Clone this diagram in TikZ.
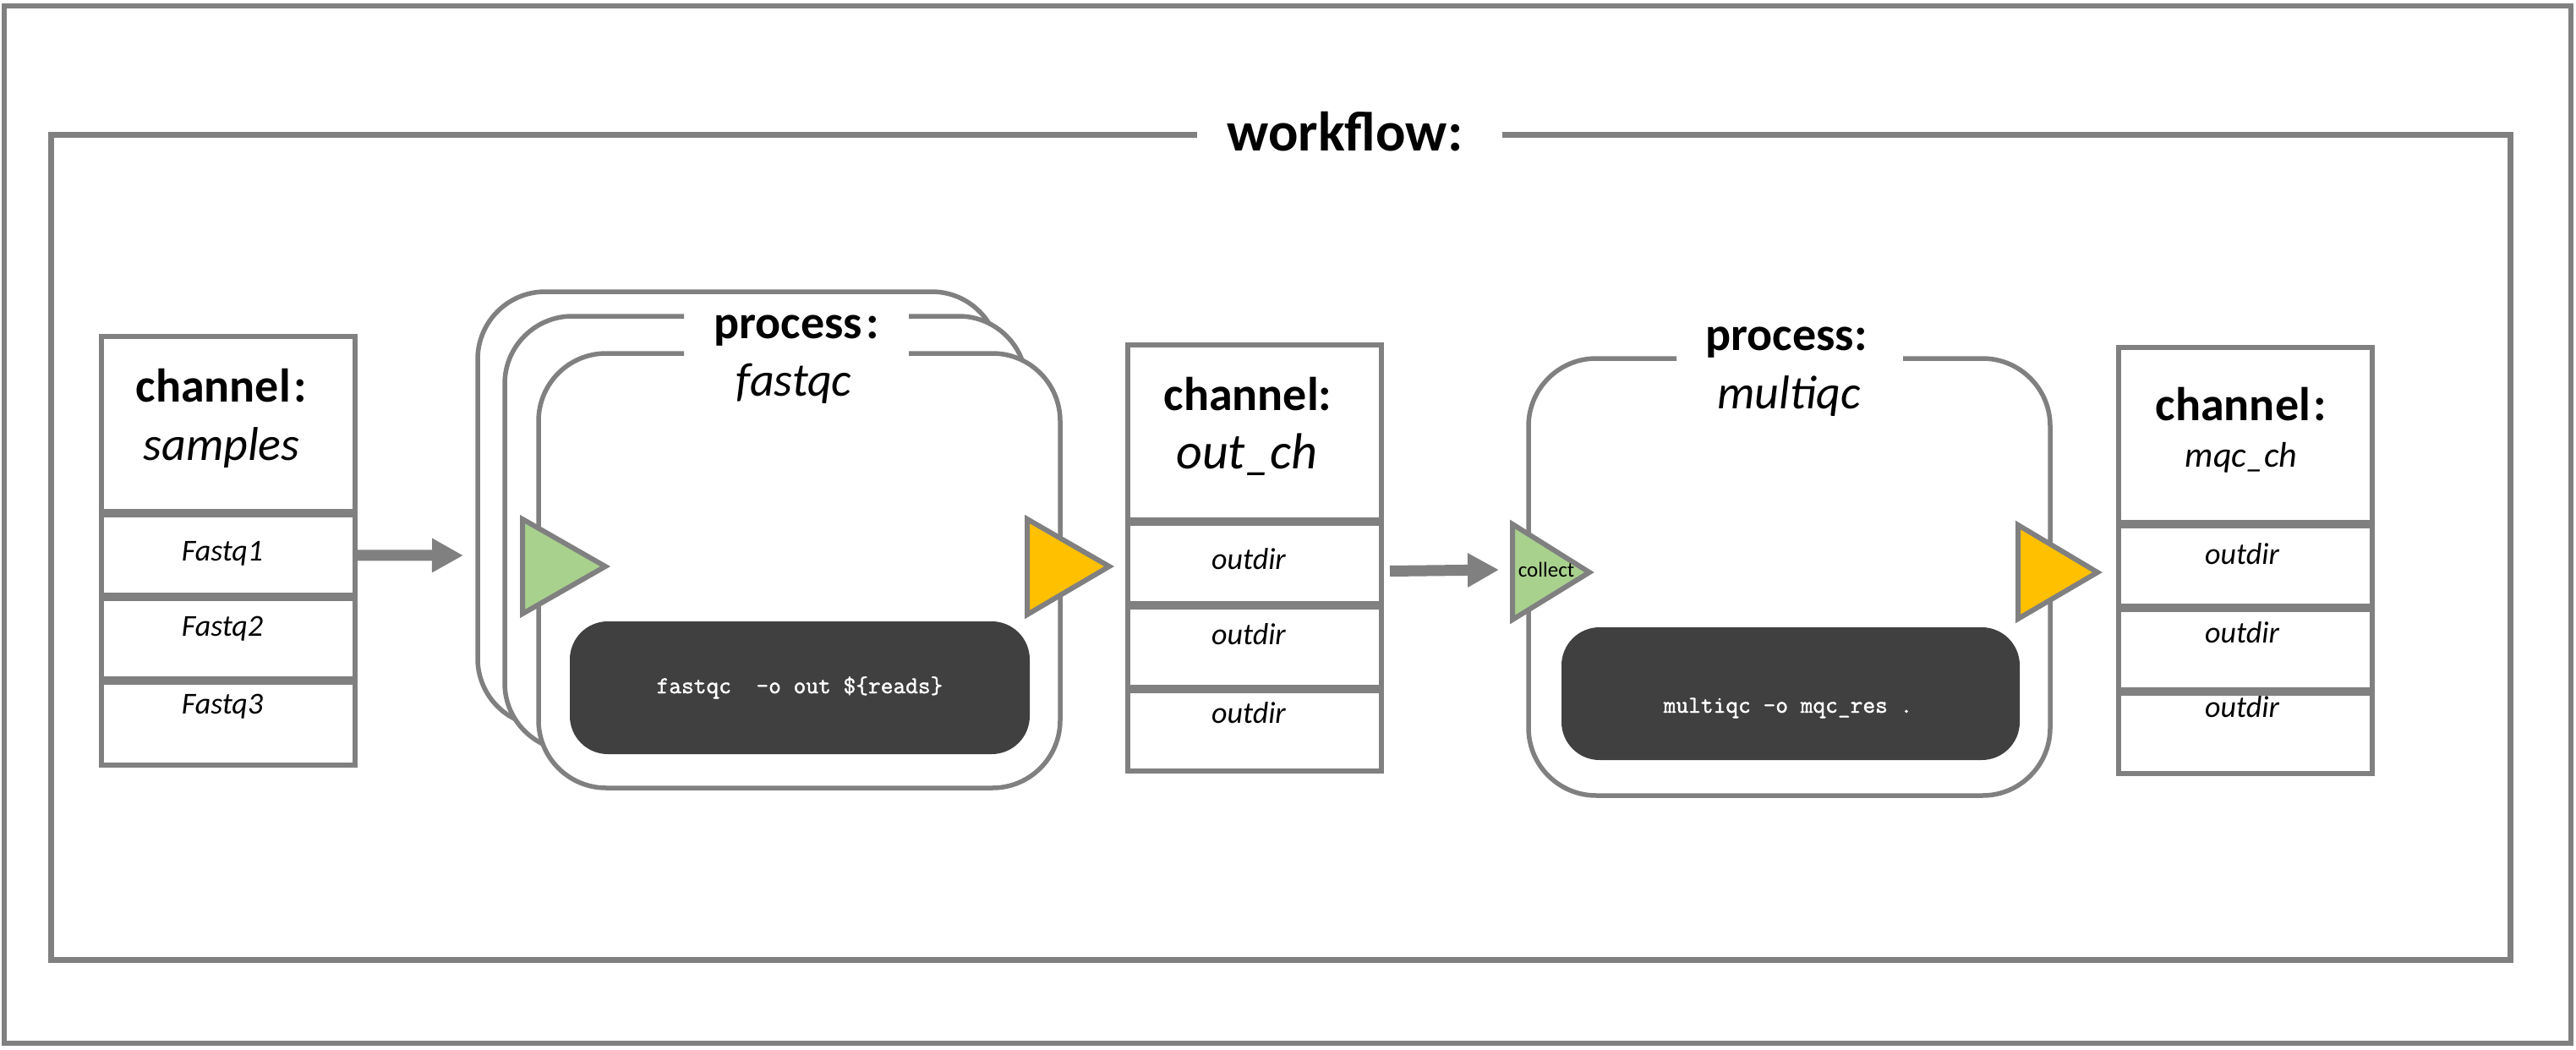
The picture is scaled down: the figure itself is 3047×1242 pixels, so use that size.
\documentclass[tikz,border=0pt]{standalone}
\usepackage{fontspec}
\setmainfont{Carlito}
\newfontfamily\cmdfont{Latin Modern Mono}[FakeBold=1.5]
\usetikzlibrary{arrows.meta,positioning}

\definecolor{linegray}{HTML}{808080}
\definecolor{ingreen}{HTML}{A9D18E}
\definecolor{outyellow}{HTML}{FFC000}
\definecolor{cmddark}{HTML}{404040}

\tikzset{
  outerframe/.style={draw=linegray, line width=3pt},
  cell/.style={draw=linegray, line width=3pt, fill=white, minimum width=150pt, inner sep=0pt},
  hdrcell/.style={cell, minimum height=103.5pt},
  rowcell/.style={cell, minimum height=47.5pt},
  proc/.style={draw=linegray, line width=2.75pt, fill=white, rounded corners=40pt},
  cmdbox/.style={fill=cmddark, rounded corners=22.5pt},
  port/.style={draw=linegray, line width=3pt, line join=miter},
  flow/.style={draw=linegray, line width=6.5pt, -{Triangle[length=18.5pt,width=19pt]}},
  lbl/.style={anchor=base, inner sep=0pt},
  ttl/.style={lbl, font=\fontsize{28}{32}\selectfont\bfseries},
  nm/.style={lbl, font=\fontsize{28}{32}\selectfont\itshape},
  itm/.style={lbl, font=\fontsize{18}{22}\selectfont\itshape},
  cmdtext/.style={lbl, text=white, font=\fontsize{14.3}{17}\selectfont\cmdfont}
}

\begin{document}
\begin{tikzpicture}[x=0.5pt,y=-0.5pt]
  \useasboundingbox (0,0) rectangle (3047,1242);

  \draw[outerframe] (5,7) rectangle (3041,1234);
  \draw[outerframe, line width=3.5pt] (1416,159) -- (60,159) -- (60,1135)
    -- (2969,1135) -- (2969,159) -- (1777,159);
  \node[lbl, font=\fontsize{33}{40}\selectfont\bfseries] (wf) at (1591,178) {workflow:};

  % channel samples
  \node[hdrcell, anchor=north west] (smp) at (117,395) {};
  \node[rowcell, below=-1pt of smp] (smp1) {};
  \node[rowcell, below=-1pt of smp1] (smp2) {};
  \node[rowcell, below=-1pt of smp2, minimum height=49pt] (smp3) {};
  \node[ttl] (smp-t) at (262,475) {channel\kern2pt:};
  \node[nm] (smp-n) at (262,544) {samples};
  \node[itm] (smp1-t) at (263,663) {Fastq1};
  \node[itm] (smp2-t) at (263,752) {Fastq2};
  \node[itm] (smp3-t) at (263,844) {Fastq3};

  % process fastqc
  \draw[proc] (565,345) rectangle (1182,859);
  \draw[proc] (809,374) -- (597,374) -- (597,888) -- (1214,888) -- (1214,374) -- (1075,374);
  \draw[proc] (809,418) -- (637,418) -- (637,932) -- (1254,932) -- (1254,418) -- (1075,418);
  \fill[cmdbox] (674,735) rectangle (1218,892);
  \node[cmdtext] (fq-code) at (946,820) {fastqc\ \ -o out \$\{reads\}};
  \node[ttl] (fq-t) at (942,400) {process\kern2pt:};
  \node[nm] (fq-n) at (939,468) {fastqc};
  \draw[port, fill=ingreen] (618,614) -- (716,670) -- (618,726) -- cycle;
  \draw[port, fill=outyellow] (1215,614) -- (1312,670) -- (1215,727) -- cycle;

  % channel out_ch
  \node[hdrcell, anchor=north west] (oc) at (1331,405) {};
  \node[rowcell, below=-1pt of oc] (oc1) {};
  \node[rowcell, below=-1pt of oc1] (oc2) {};
  \node[rowcell, below=-1pt of oc2] (oc3) {};
  \node[ttl] (oc-t) at (1476,485) {channel:};
  \node[lbl, font=\fontsize{30}{34}\selectfont\itshape] (oc-n) at (1475,554) {out\_ch};
  \node[itm] (oc1-t) at (1477,673) {outdir};
  \node[itm] (oc2-t) at (1477,762) {outdir};
  \node[itm] (oc3-t) at (1477,855) {outdir};

  % process multiqc
  \draw[proc] (1983,424) -- (1808,424) -- (1808,941) -- (2425,941) -- (2425,424) -- (2251,424);
  \fill[cmdbox] (1847,742) rectangle (2389,899);
  \node[cmdtext] (mq-code) at (2115,843) {multiqc -o mqc\_res .};
  \node[ttl] (mq-t) at (2113,414) {process:};
  \node[nm] (mq-n) at (2116,483) {multiqc};
  \draw[port, fill=ingreen] (1789,620) -- (1880,677) -- (1789,733) -- cycle;
  \node[lbl, font=\fontsize{12.5}{15}\selectfont] (mq-collect) at (1829,682) {collect};
  \draw[port, fill=outyellow] (2387,621) -- (2481,677) -- (2387,732) -- cycle;

  % channel mqc_ch
  \node[hdrcell, anchor=north west] (mc) at (2503,408) {};
  \node[rowcell, below=-1pt of mc] (mc1) {};
  \node[rowcell, below=-1pt of mc1] (mc2) {};
  \node[rowcell, below=-1pt of mc2] (mc3) {};
  \node[ttl] (mc-t) at (2651,497) {channel\kern2pt:};
  \node[lbl, font=\fontsize{21}{25}\selectfont\itshape] (mc-n) at (2651,552) {mqc\_ch};
  \node[itm] (mc1-t) at (2652,667) {outdir};
  \node[itm] (mc2-t) at (2652,760) {outdir};
  \node[itm] (mc3-t) at (2652,848) {outdir};

  \coordinate (fq-feed) at (548,657);
  \coordinate (mq-feed) at (1773,674);
  \draw[flow] (smp1) -- (fq-feed);
  \draw[flow] ([xshift=3.5pt,yshift=-4.5pt]oc1.east) -- (mq-feed);
\end{tikzpicture}
\end{document}
